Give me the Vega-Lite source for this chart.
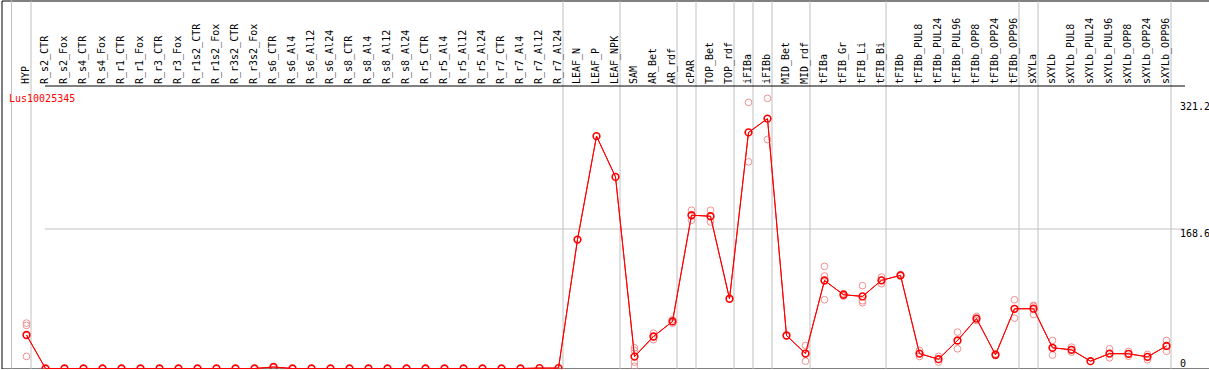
{
  "$schema": "https://vega.github.io/schema/vega-lite/v6.json",
  "width": 1208,
  "height": 368,
  "autosize": {"type": "none"},
  "padding": {"left": 1.5, "top": 0.5, "right": 0, "bottom": 0},
  "background": "white",
  "config": {"view": {"stroke": "black", "strokeWidth": 1}, "font": "DejaVu Sans Mono"},
  "title": {"text": "Lus10025345", "anchor": "start", "frame": "group", "offset": -112, "dx": 7.5, "color": "red", "font": "DejaVu Sans Mono", "fontSize": 10, "fontWeight": "normal", "baseline": "alphabetic"},
  "datasets": {
    "means": [
      {"sample": "HYP", "value": 40.3},
      {"sample": "R_s2_CTR", "value": 0},
      {"sample": "R_s2_Fox", "value": 0},
      {"sample": "R_s4_CTR", "value": 0},
      {"sample": "R_s4_Fox", "value": 0},
      {"sample": "R_r1_CTR", "value": 0},
      {"sample": "R_r1_Fox", "value": 0},
      {"sample": "R_r3_CTR", "value": 0},
      {"sample": "R_r3_Fox", "value": 0},
      {"sample": "R_r1s2_CTR", "value": 0},
      {"sample": "R_r1s2_Fox", "value": 0},
      {"sample": "R_r3s2_CTR", "value": 0},
      {"sample": "R_r3s2_Fox", "value": 0},
      {"sample": "R_s6_CTR", "value": 1.8},
      {"sample": "R_s6_Al4", "value": 0},
      {"sample": "R_s6_Al12", "value": 0},
      {"sample": "R_s6_Al24", "value": 0},
      {"sample": "R_s8_CTR", "value": 0},
      {"sample": "R_s8_Al4", "value": 0},
      {"sample": "R_s8_Al12", "value": 0},
      {"sample": "R_s8_Al24", "value": 0},
      {"sample": "R_r5_CTR", "value": 0},
      {"sample": "R_r5_Al4", "value": 0},
      {"sample": "R_r5_Al12", "value": 0},
      {"sample": "R_r5_Al24", "value": 0},
      {"sample": "R_r7_CTR", "value": 0},
      {"sample": "R_r7_Al4", "value": 0},
      {"sample": "R_r7_Al12", "value": 0.5},
      {"sample": "R_r7_Al24", "value": 0.5},
      {"sample": "LEAF_N", "value": 155.0},
      {"sample": "LEAF_P", "value": 279.4},
      {"sample": "LEAF_NPK", "value": 230.4},
      {"sample": "SAM", "value": 14.3},
      {"sample": "AR_Bet", "value": 38.5},
      {"sample": "AR_rdf", "value": 56.6},
      {"sample": "cPAR", "value": 184.3},
      {"sample": "TOP_Bet", "value": 183.1},
      {"sample": "TOP_rdf", "value": 83.9},
      {"sample": "iFIBa", "value": 283.9},
      {"sample": "iFIBb", "value": 300.4},
      {"sample": "MID_Bet", "value": 39.7},
      {"sample": "MID_rdf", "value": 18.0},
      {"sample": "tFIBa", "value": 105.8},
      {"sample": "tFIB_Gr", "value": 88.7},
      {"sample": "tFIB_Li", "value": 86.7},
      {"sample": "tFIB_Bi", "value": 106.0},
      {"sample": "tFIBb", "value": 112.0},
      {"sample": "tFIBb_PUL8", "value": 17.9},
      {"sample": "tFIBb_PUL24", "value": 11.2},
      {"sample": "tFIBb_PUL96", "value": 33.7},
      {"sample": "tFIBb_OPP8", "value": 60.0},
      {"sample": "tFIBb_OPP24", "value": 16.5},
      {"sample": "tFIBb_OPP96", "value": 71.8},
      {"sample": "sXYLa", "value": 71.9},
      {"sample": "sXYLb", "value": 24.9},
      {"sample": "sXYLb_PUL8", "value": 22.5},
      {"sample": "sXYLb_PUL24", "value": 8.8},
      {"sample": "sXYLb_PUL96", "value": 17.9},
      {"sample": "sXYLb_OPP8", "value": 17.7},
      {"sample": "sXYLb_OPP24", "value": 14.0},
      {"sample": "sXYLb_OPP96", "value": 27.1}
    ],
    "reps": [
      {"sample": "HYP", "value": 54.6},
      {"sample": "HYP", "value": 51.8},
      {"sample": "HYP", "value": 14.5},
      {"sample": "SAM", "value": 24.9},
      {"sample": "SAM", "value": 21.7},
      {"sample": "SAM", "value": 7.6},
      {"sample": "SAM", "value": 2.8},
      {"sample": "AR_Bet", "value": 42.5},
      {"sample": "AR_Bet", "value": 34.6},
      {"sample": "AR_rdf", "value": 58.6},
      {"sample": "AR_rdf", "value": 54.6},
      {"sample": "cPAR", "value": 190.3},
      {"sample": "cPAR", "value": 178.3},
      {"sample": "TOP_Bet", "value": 190.3},
      {"sample": "TOP_Bet", "value": 176.2},
      {"sample": "iFIBa", "value": 320.0},
      {"sample": "iFIBa", "value": 248.5},
      {"sample": "iFIBb", "value": 324.8},
      {"sample": "iFIBb", "value": 275.4},
      {"sample": "MID_rdf", "value": 27.7},
      {"sample": "MID_rdf", "value": 8.8},
      {"sample": "tFIBa", "value": 122.8},
      {"sample": "tFIBa", "value": 111.2},
      {"sample": "tFIBa", "value": 82.7},
      {"sample": "tFIB_Gr", "value": 90.0},
      {"sample": "tFIB_Gr", "value": 87.1},
      {"sample": "tFIB_Li", "value": 99.6},
      {"sample": "tFIB_Li", "value": 81.5},
      {"sample": "tFIB_Li", "value": 79.0},
      {"sample": "tFIB_Bi", "value": 110.0},
      {"sample": "tFIB_Bi", "value": 106.0},
      {"sample": "tFIB_Bi", "value": 102.0},
      {"sample": "tFIBb", "value": 113.0},
      {"sample": "tFIBb", "value": 111.0},
      {"sample": "tFIBb_PUL8", "value": 21.7},
      {"sample": "tFIBb_PUL8", "value": 14.5},
      {"sample": "tFIBb_PUL24", "value": 14.6},
      {"sample": "tFIBb_PUL24", "value": 7.8},
      {"sample": "tFIBb_PUL96", "value": 43.7},
      {"sample": "tFIBb_PUL96", "value": 23.7},
      {"sample": "tFIBb_OPP8", "value": 62.6},
      {"sample": "tFIBb_OPP8", "value": 57.8},
      {"sample": "tFIBb_OPP24", "value": 17.5},
      {"sample": "tFIBb_OPP24", "value": 15.5},
      {"sample": "tFIBb_OPP96", "value": 82.7},
      {"sample": "tFIBb_OPP96", "value": 60.6},
      {"sample": "sXYLa", "value": 75.9},
      {"sample": "sXYLa", "value": 74.8},
      {"sample": "sXYLa", "value": 65.0},
      {"sample": "sXYLb", "value": 33.7},
      {"sample": "sXYLb", "value": 16.1},
      {"sample": "sXYLb_PUL8", "value": 25.7},
      {"sample": "sXYLb_PUL8", "value": 19.6},
      {"sample": "sXYLb_PUL96", "value": 23.7},
      {"sample": "sXYLb_PUL96", "value": 12.9},
      {"sample": "sXYLb_OPP8", "value": 20.5},
      {"sample": "sXYLb_OPP8", "value": 14.8},
      {"sample": "sXYLb_OPP24", "value": 16.9},
      {"sample": "sXYLb_OPP24", "value": 10.5},
      {"sample": "sXYLb_OPP96", "value": 33.7},
      {"sample": "sXYLb_OPP96", "value": 20.8}
    ]
  },
  "layer": [
    {
      "data": {"name": "means"},
      "mark": {"type": "line", "color": "#ff0000", "strokeWidth": 1},
      "encoding": {
        "x": {
          "field": "sample", "type": "nominal", "sort": null,
          "scale": {"type": "point", "range": [25, 1165], "padding": 0, "domain": ["HYP","R_s2_CTR","R_s2_Fox","R_s4_CTR","R_s4_Fox","R_r1_CTR","R_r1_Fox","R_r3_CTR","R_r3_Fox","R_r1s2_CTR","R_r1s2_Fox","R_r3s2_CTR","R_r3s2_Fox","R_s6_CTR","R_s6_Al4","R_s6_Al12","R_s6_Al24","R_s8_CTR","R_s8_Al4","R_s8_Al12","R_s8_Al24","R_r5_CTR","R_r5_Al4","R_r5_Al12","R_r5_Al24","R_r7_CTR","R_r7_Al4","R_r7_Al12","R_r7_Al24","LEAF_N","LEAF_P","LEAF_NPK","SAM","AR_Bet","AR_rdf","cPAR","TOP_Bet","TOP_rdf","iFIBa","iFIBb","MID_Bet","MID_rdf","tFIBa","tFIB_Gr","tFIB_Li","tFIB_Bi","tFIBb","tFIBb_PUL8","tFIBb_PUL24","tFIBb_PUL96","tFIBb_OPP8","tFIBb_OPP24","tFIBb_OPP96","sXYLa","sXYLb","sXYLb_PUL8","sXYLb_PUL24","sXYLb_PUL96","sXYLb_OPP8","sXYLb_OPP24","sXYLb_OPP96"]},
          "axis": {
            "orient": "top", "offset": -85, "title": null, "domain": false, "ticks": false,
            "labelAngle": -90, "labelAlign": "left", "labelBaseline": "middle", "labelPadding": 2,
            "labelFont": "DejaVu Sans Mono", "labelFontSize": 10, "labelColor": "black",
            "tickOffset": 4, "labelOffset": -5,
            "labelOverlap": false, "labelBound": false, "labelFlush": false,
            "grid": true, "gridColor": "#c0c0c0", "gridWidth": 1,
            "gridOpacity": {"condition": {"test": "indexof(['HYP','R_r7_Al24','LEAF_NPK','AR_rdf','cPAR','TOP_rdf','iFIBa','iFIBb','MID_rdf','tFIB_Bi','tFIBb_OPP96','sXYLa','sXYLb_OPP96'], datum.value) >= 0", "value": 1}, "value": 0}
          }
        },
        "y": {
          "field": "value", "type": "quantitative",
          "scale": {"domain": [0, 442.5], "nice": false, "zero": true},
          "axis": {
            "orient": "right", "offset": -30, "title": null, "domain": false, "ticks": false,
            "values": [0, 168.6, 321.2, 340.3], "labelExpr": "datum.value + ''",
            "labelPadding": 0, "labelFont": "DejaVu Sans Mono", "labelFontSize": 10, "labelColor": "black",
            "labelFlush": false, "labelOverlap": false, "labelBound": false, "labelAlign": "left",
            "labelBaseline": {"condition": {"test": "datum.value === 0", "value": "bottom"}, "value": "top"},
            "labelOpacity": {"condition": {"test": "datum.value > 330", "value": 0}, "value": 1},
            "grid": true, "gridWidth": 1,
            "gridColor": {"condition": {"test": "datum.value > 330", "value": "black"}, "value": "#c0c0c0"},
            "gridOpacity": {"condition": {"test": "(datum.value > 100 && datum.value < 200) || datum.value > 330", "value": 1}, "value": 0}
          }
        }
      }
    },
    {
      "data": {"values": [{"sample": "HYP"}]},
      "mark": {"type": "rule", "color": "#c0c0c0", "strokeWidth": 1, "xOffset": -15},
      "encoding": {
        "x": {"field": "sample", "type": "nominal"}
      }
    },
    {
      "data": {"name": "reps"},
      "mark": {"type": "point", "shape": "circle", "filled": false, "color": "#f09090", "size": 45, "strokeWidth": 1, "opacity": 1},
      "encoding": {
        "x": {"field": "sample", "type": "nominal"},
        "y": {"field": "value", "type": "quantitative"}
      }
    },
    {
      "data": {"name": "means"},
      "mark": {"type": "line", "color": "#ff0000", "strokeWidth": 1},
      "encoding": {
        "x": {"field": "sample", "type": "nominal"},
        "y": {"field": "value", "type": "quantitative"}
      }
    },
    {
      "data": {"name": "means"},
      "mark": {"type": "point", "shape": "circle", "filled": false, "color": "#ff0000", "size": 45, "strokeWidth": 1.6, "opacity": 1},
      "encoding": {
        "x": {"field": "sample", "type": "nominal"},
        "y": {"field": "value", "type": "quantitative"}
      }
    }
  ]
}
